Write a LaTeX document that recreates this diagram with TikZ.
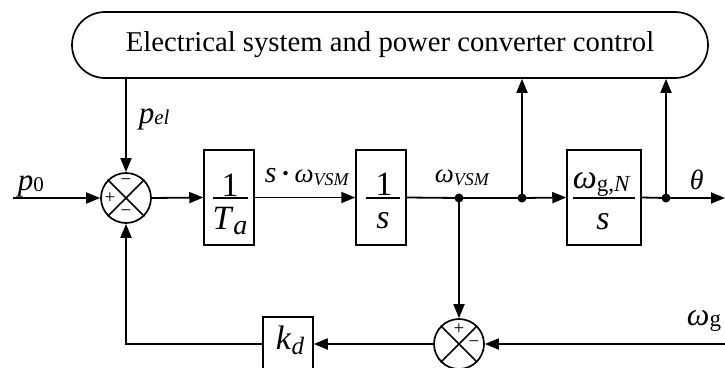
\documentclass[tikz,border=0pt]{standalone}
\usepackage{fontspec}
\usepackage{graphicx}
\setmainfont{Liberation Serif}
\usetikzlibrary{arrows.meta}
\newcommand\lsub[2][0.3ex]{\raisebox{-#1}{\fontsize{18}{19}\selectfont #2}}
\begin{document}
\begin{tikzpicture}[x=1pt,y=-1pt, line width=1.8pt,
  >={Triangle[length=14pt,width=11pt]},
  blockbox/.style={draw, line width=1.5pt, minimum width=50pt, minimum height=95pt, inner sep=0pt},
  sumnode/.style={draw, circle, line width=1.7pt, minimum size=50pt, inner sep=0pt},
  lbl/.style={font=\fontsize{27}{30}\selectfont, inner sep=0pt},
  plbl/.style={font=\fontsize{31}{33}\selectfont, inner sep=0pt},
  fracnum/.style={font=\fontsize{34}{36}\selectfont, inner sep=0pt},
  sgn/.style={font=\fontsize{19}{20}\selectfont, inner sep=0pt},
  jdot/.style={circle, fill, minimum size=9pt, inner sep=0pt},
  fbar/.style={line width=1.4pt}]
\clip (0,0) rectangle (725,367);
\useasboundingbox (0,0) rectangle (725,367);

% top block
\node[draw, line width=1.7pt, rounded corners=33pt, minimum width=636pt, minimum height=66pt,
  font=\fontsize{28.7}{32}\selectfont] (top) at (390,45) {Electrical system and power converter control};

% summing junction 1
\node[sumnode] (s1) at (126,198) {};
\draw[line width=1.5pt] (s1.north west) -- (s1.south east);
\draw[line width=1.5pt] (s1.north east) -- (s1.south west);
\node[sgn] (s1t) at (126,182) {−};
\node[sgn] (s1l) at (110,198) {+};
\node[sgn] (s1b) at (126,213) {−};

% block 1/Ta
\node[blockbox] (bTa) at (229,197.5) {};
\node[fracnum] (bTa1) at (230,185) {1};
\draw[fbar] (213,198) -- (248,198);
\node[fracnum] (bTa2) at (230,221) {\textit{T}\lsub[0.35ex]{\fontsize{28}{30}\selectfont\textit{a}}};

% block 1/s
\node[blockbox] (bS) at (381,197.5) {};
\node[fracnum] (bS1) at (384,184) {1};
\draw[fbar] (366,198) -- (400,198);
\node[fracnum] (bS2) at (383,221) {\textit{s}};

% block omega_gN / s
\node[blockbox, minimum width=74pt] (bW) at (604,197.5) {};
\node[fracnum, anchor=base west] (bW1) at (572,188) {\textit{ω}\lsub[0.2ex]{\fontsize{23}{24}\selectfont g,\textit{N}}};
\draw[fbar] (573,198) -- (635,198);
\node[fracnum] (bW2) at (603,222) {\textit{s}};

% k_d block
\node[blockbox, minimum height=54pt] (kd) at (288,344) {};
\node[fracnum] (kdt) at (290,340) {\textit{k}\lsub[0.3ex]{\fontsize{25}{26}\selectfont\textit{d}}};

% summing junction 2
\node[sgn] (s2t) at (459,329) {+};
\node[sumnode] (s2) at (459,344) {};
\draw[line width=1.5pt] (s2.north west) -- (s2.south east);
\draw[line width=1.5pt] (s2.north east) -- (s2.south west);
\node[sgn] (s2r) at (474,344) {−};

% junction dots
\node[jdot] (d1) at (459,198) {};
\node[jdot] (d2) at (522,198) {};
\node[jdot] (d3) at (666,198) {};

% free ends
\coordinate (p0start) at (13,198);
\coordinate (outR) at (725,198);
\coordinate (wgIn) at (725,344);

% connectors
\draw[->] (p0start) -- (s1.west);
\draw[->] (top.south -| s1.north) -- (s1.north);
\draw[->] (s1.east) -- (bTa.west);
\draw[->] (bTa.east) -- (bS.west);
\draw (bS.east) -- (d1.center) -- (d2.center);
\draw[->] (d2.center) -- (bW.west);
\draw[->] (d2.center) -- (d2.center |- top.south);
\draw (bW.east) -- (d3.center);
\draw[->] (d3.center) -- (outR);
\draw[->] (d3.center) -- (d3.center |- top.south);
\draw[->] (d1.center) -- (s2.north);
\draw[->] (wgIn) -- (s2.east);
\draw[->] (s2.west) -- (kd.east);
\draw[->] (kd.west) -- (kd.west -| s1.south) -- (s1.south);

% labels
\node[plbl, anchor=base west] (lpel) at (138,123) {\textit{p}\lsub[0.1ex]{\fontsize{21}{22}\selectfont\textit{el}}};
\node[plbl, anchor=base west] (lp0) at (17,190) {\textit{p}\lsub[0.1ex]{\fontsize{21}{22}\selectfont 0}};
\node[lbl, anchor=base west] (lsw) at (264,182) {{\fontsize{30}{32}\selectfont\textit{s}}\,\textbf{·}\,\textit{ω}\lsub{\textit{VSM}}};
\node[lbl, anchor=base west] (lw) at (434,182) {\textit{ω}\lsub{\textit{VSM}}};
\node[lbl, anchor=base west, font=\fontsize{28}{30}\selectfont] (lth) at (689,189) {\textit{θ}};
\node[lbl, anchor=base west, font=\fontsize{32}{34}\selectfont] (lwg) at (686,325) {\textit{ω}\lsub[0.1ex]{\fontsize{23}{24}\selectfont g}};
\end{tikzpicture}
\end{document}
